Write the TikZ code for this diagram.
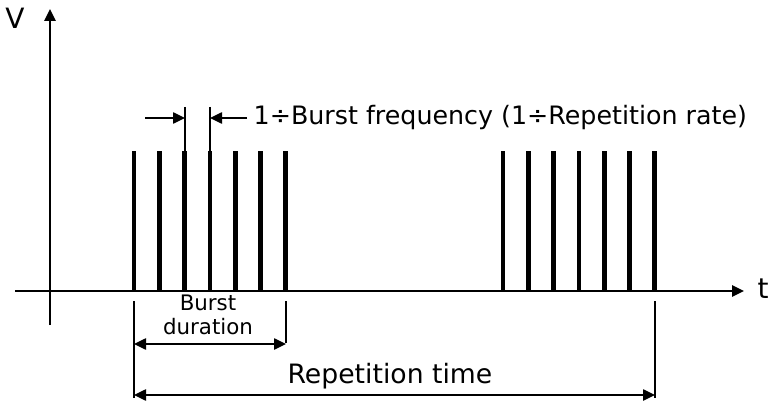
\documentclass[tikz,border=0pt]{standalone}
\usepackage{fontspec}
\setmainfont{DejaVu Sans}
\usetikzlibrary{arrows.meta}

\tikzset{
  axis/.style={line width=1.3pt,->},
  pulse/.style={line width=3.6pt},
  marker/.style={line width=0.9pt},
  span/.style={line width=1.1pt},
}

\begin{document}
\begin{tikzpicture}[x=0.75pt,y=-0.75pt,>={Triangle[length=9pt,width=8.5pt]},
    font=\fontsize{19}{22}\selectfont]
  \useasboundingbox (0,0) rectangle (775,403);
  % axes
  \coordinate (o) at (50,291);
  \coordinate (xs) at (15,291);
  \coordinate (xe) at (744,291);
  \coordinate (ys) at (50,325);
  \coordinate (ye) at (50,9);
  \draw[axis] (xs) -- (xe);
  \draw[axis] (ys) -- (ye);
  \node[font=\fontsize{21}{24}\selectfont] (vlab) at (15,18) {V};
  \node[font=\fontsize{21}{24}\selectfont] (tlab) at (763,289) {t};
  % two bursts of pulses
  \foreach \k in {0,...,6}{
    \coordinate (p\k) at (134+25.3*\k,291);
    \coordinate (q\k) at (503+25.3*\k,291);
    \draw[pulse] (p\k) -- ++(0,-140);
    \draw[pulse] (q\k) -- ++(0,-140);
  }
  % pulse period
  \coordinate (m1) at (185,107);
  \coordinate (m2) at (210,107);
  \draw[marker] (m1) -- ++(0,44);
  \draw[marker] (m2) -- ++(0,44);
  \coordinate (a1) at (145,118);
  \coordinate (a2) at (247,118);
  \draw[->,span] (a1) -- (m1 |- a1);
  \draw[->,span] (a2) -- (m2 |- a2);
  \node[anchor=west] (freq) at (249,118) {1÷Burst frequency (1÷Repetition rate)};
  % burst duration
  \coordinate (d1) at (134,301);
  \coordinate (d2) at (286,301);
  \draw[marker] (d1) -- ++(0,97);
  \draw[marker] (d2) -- ++(0,42);
  \draw[<->,span] (d1 |- 0,344) -- (d2 |- 0,344);
  \node[align=center,font=\fontsize{16}{18}\selectfont] (dur) at (208,315) {Burst\\duration};
  % repetition time
  \coordinate (r2) at (655,301);
  \draw[marker] (r2) -- ++(0,97);
  \draw[<->,span] (d1 |- 0,395) -- (r2 |- 0,395);
  \node[font=\fontsize{20}{24}\selectfont] (rep) at (390,376) {Repetition time};
\end{tikzpicture}
\end{document}
